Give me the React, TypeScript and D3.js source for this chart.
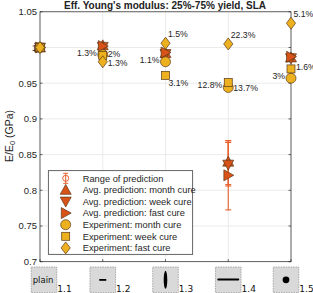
import React from "react"
import * as d3 from "d3"

// categories (sample geometry)
const categories = ["1.1", "1.2", "1.3", "1.4", "1.5"]

// average prediction, E/E0
const predMonth = [1.0, 1.003, 0.992, 0.84, 0.986]
const predWeek = [1.0, 1.001, 0.991, 0.836, 0.985]
const predFast = [1.0, 1.002, 0.993, 0.821, 0.987]

// range of prediction (low / high)
const rangeLow = [1.0, 0.999, 0.989, 0.7725, 0.982]
const rangeHigh = [1.0, 1.005, 0.995, 0.8695, 0.991]
const rangeLow2 = [1.0, 0.999, 0.989, 0.806, 0.982]
const rangeHigh2 = [1.0, 1.005, 0.995, 0.867, 0.991]
const rangeLow3 = [1.0, 0.999, 0.989, 0.808, 0.982]

// experiments
const expMonth = [1.0, 0.99, 0.98, 0.944, 0.957]
const expWeek = [1.0, 0.989, 0.961, 0.951, 0.97]
const expFast = [1.0, 0.98, 1.006, 1.005, 1.034]

// percentage labels: [category index, series, text, side]
const notes: [number, string, string, string][] = [
  [1, "month", "1.3%", "left"],
  [1, "week", "2%", "right"],
  [1, "fast", "1.3%", "right"],
  [2, "fast", "1.5%", "up"],
  [2, "month", "1.1%", "left"],
  [2, "week", "3.1%", "down"],
  [3, "fast", "22.3%", "up"],
  [3, "month", "12.8%", "left"],
  [3, "week", "13.7%", "rightlow"],
  [4, "fast", "5.1%", "up"],
  [4, "week", "1.6%", "right"],
  [4, "month", "3%", "left"],
]

const yTicks = [0.7, 0.75, 0.8, 0.85, 0.9, 0.95, 1, 1.05]

const legendItems = [
  "Range of prediction",
  "Avg. prediction: month cure",
  "Avg. prediction: week cure",
  "Avg. prediction: fast cure",
  "Experiment: month cure",
  "Experiment: week cure",
  "Experiment: fast cure",
]

const RED = "#D95319"
const YEL = "#EDB120"
const BAR = "#E8602C"
const EDGE = "#5a3a1a"
const FONT = "Liberation Sans, Arial, sans-serif"

function marker(kind: string, x: number, y: number, key?: string) {
  if (kind === "up" || kind === "down" || kind === "right") {
    const s = 5.5
    let pts: number[][]
    if (kind === "up") pts = [[0, -s], [s, s * 0.8], [-s, s * 0.8]]
    else if (kind === "down") pts = [[0, s], [s, -s * 0.8], [-s, -s * 0.8]]
    else pts = [[s, 0], [-s * 0.8, s], [-s * 0.8, -s]]
    const d = "M" + pts.map(p => `${x + p[0]},${y + p[1]}`).join("L") + "Z"
    return <path key={key} d={d} fill={RED} stroke={EDGE} strokeWidth={0.7} />
  }
  if (kind === "circle")
    return <circle key={key} cx={x} cy={y} r={5} fill={YEL} stroke={EDGE} strokeWidth={0.7} />
  if (kind === "square")
    return <rect key={key} x={x - 4} y={y - 4} width={8} height={8} fill={YEL} stroke={EDGE} strokeWidth={0.7} />
  const d = `M${x},${y - 6}L${x + 4.6},${y}L${x},${y + 6}L${x - 4.6},${y}Z`
  return <path key={key} d={d} fill={YEL} stroke={EDGE} strokeWidth={0.7} />
}

export default function App() {
  const left = 40, right = 291, top = 11.8, bottom = 261.7
  const x = d3.scalePoint().domain(categories).range([left, right])
  const y = d3.scaleLinear().domain([0.7, 1.05]).range([bottom, top])

  const expOf: Record<string, number[]> = { month: expMonth, week: expWeek, fast: expFast }
  const ranges = [
    [rangeLow, rangeHigh],
    [rangeLow2, rangeHigh2],
    [rangeLow3, rangeHigh],
  ]

  const legX = 48.3, legY = 170.7, legW = 144.4, legH = 83.6
  const rowH = 11.6

  return (
    <svg width={313} height={293} style={{ position: "absolute", left: 0, top: 0, background: "#fff" }} fontFamily={FONT}>
      <text x={165} y={9} textAnchor="middle" fontSize={10} fontWeight="bold" fill="#222">
        Eff. Young's modulus: 25%-75% yield, SLA
      </text>

      {/* grid */}
      {yTicks.map(t => (
        <line key={"gy" + t} x1={left} x2={right} y1={y(t)} y2={y(t)} stroke="#e6e6e6" strokeWidth={0.8} />
      ))}
      {categories.map(c => (
        <line key={"gx" + c} x1={x(c)} x2={x(c)} y1={top} y2={bottom} stroke="#e6e6e6" strokeWidth={0.8} />
      ))}

      {/* box */}
      <rect x={left} y={top} width={right - left} height={bottom - top} fill="none" stroke="#262626" strokeWidth={0.7} />
      {yTicks.map(t => (
        <g key={"t" + t}>
          <line x1={left} x2={left + 2.5} y1={y(t)} y2={y(t)} stroke="#262626" strokeWidth={0.7} />
          <line x1={right} x2={right - 2.5} y1={y(t)} y2={y(t)} stroke="#262626" strokeWidth={0.7} />
          <text x={left - 3} y={y(t) + 3.3} textAnchor="end" fontSize={9.5} fill="#262626">
            {d3.format("~g")(t)}
          </text>
        </g>
      ))}
      {categories.map(c => (
        <line key={"tx" + c} x1={x(c)} x2={x(c)} y1={bottom} y2={bottom - 2.5} stroke="#262626" strokeWidth={0.7} />
      ))}

      <text transform={`translate(12.5,136) rotate(-90)`} textAnchor="middle" fontSize={10.5} fill="#262626">
        E/E<tspan fontSize={7.5} dy={2}>0</tspan><tspan dy={-2}> (GPa)</tspan>
      </text>

      {/* range of prediction */}
      {categories.map((c, i) =>
        ranges.map(([lo, hi], k) => {
          if (hi[i] - lo[i] < 0.001) return null
          const cx = x(c) as number
          return (
            <g key={"eb" + i + k} stroke={BAR} strokeWidth={1.1}>
              <line x1={cx} x2={cx} y1={y(lo[i])} y2={y(hi[i])} />
              <line x1={cx - 3} x2={cx + 3} y1={y(lo[i])} y2={y(lo[i])} />
              <line x1={cx - 3} x2={cx + 3} y1={y(hi[i])} y2={y(hi[i])} />
            </g>
          )
        })
      )}

      {/* predictions */}
      {categories.map((c, i) => (
        <g key={"pr" + i}>
          {marker("up", x(c) as number, y(predMonth[i]))}
          {marker("down", x(c) as number, y(predWeek[i]))}
          {marker("right", x(c) as number, y(predFast[i]))}
        </g>
      ))}

      {/* experiments */}
      {categories.map((c, i) => (
        <g key={"ex" + i}>
          {marker("circle", x(c) as number, y(expMonth[i]))}
          {marker("square", x(c) as number, y(expWeek[i]))}
          {marker("diamond", x(c) as number, y(expFast[i]))}
        </g>
      ))}

      {/* percentage labels */}
      {notes.map(([i, s, txt, side], k) => {
        const cx = x(categories[i]) as number
        const cy = y(expOf[s][i])
        let tx = cx + 5, ty = cy + 4, anchor = "start"
        if (s === "week" && side === "right") ty = cy + 1.5
        if (side === "left") { tx = cx - 6; anchor = "end"; ty = cy + 1 }
        if (side === "up") { tx = cx + 2.5; ty = cy - 6 }
        if (side === "down") { tx = cx + 3; ty = cy + 11 }
        if (side === "rightlow") { tx = cx + 5; ty = cy + 9 }
        return (
          <text key={"n" + k} x={tx} y={ty} textAnchor={anchor} fontSize={8.7} fill="#262626">
            {txt}
          </text>
        )
      })}

      {/* legend */}
      <rect x={legX} y={legY} width={legW} height={legH} fill="#fff" stroke="#262626" strokeWidth={0.7} />
      {legendItems.map((lab, k) => {
        const ly = legY + 7.6 + k * rowH
        const mx = legX + 17.4
        let m: React.ReactNode
        if (k === 0)
          m = (
            <g stroke={BAR} strokeWidth={1} fill="none">
              <line x1={mx} x2={mx} y1={ly - 5} y2={ly + 5} />
              <line x1={mx - 2.5} x2={mx + 2.5} y1={ly - 5} y2={ly - 5} />
              <line x1={mx - 2.5} x2={mx + 2.5} y1={ly + 5} y2={ly + 5} />
              <circle cx={mx} cy={ly} r={3} />
            </g>
          )
        else m = marker(["up", "down", "right", "circle", "square", "diamond"][k - 1], mx, ly)
        return (
          <g key={"lg" + k}>
            {m}
            <text x={legX + 34.4} y={ly + 3.2} fontSize={9.3} fill="#262626">
              {lab}
            </text>
          </g>
        )
      })}

      {/* geometry icons under the axis */}
      {categories.map((c, i) => {
        const cx = Math.min(Math.max(x(c) as number, 44), 286)
        const bx = cx - 12.8, by = 267, bs = 25.6
        let icon: React.ReactNode = null
        if (i === 0)
          icon = <text x={bx + 1.5} y={by + 16} fontSize={8.5} fill="#111" fontFamily="DejaVu Sans, sans-serif">plain</text>
        if (i === 1) icon = <rect x={cx - 3.5} y={by + 12} width={7} height={1.8} fill="#000" />
        if (i === 2) icon = <ellipse cx={cx} cy={by + 12.8} rx={1.8} ry={9} fill="#000" />
        if (i === 3) icon = <rect x={cx - 11} y={by + 11.5} width={22} height={2} rx={1} fill="#000" />
        if (i === 4) icon = <circle cx={cx} cy={by + 12.8} r={3.4} fill="#000" />
        return (
          <g key={"ic" + i}>
            <rect x={bx} y={by} width={bs} height={bs} fill="#d9d9d9" stroke="#8c8c8c" strokeWidth={0.7} strokeDasharray="1.5,1" />
            {icon}
            <text x={bx + bs + 0.5} y={291.5} fontSize={9} fill="#111" fontFamily="DejaVu Sans, sans-serif">
              {c}
            </text>
          </g>
        )
      })}
    </svg>
  )
}
